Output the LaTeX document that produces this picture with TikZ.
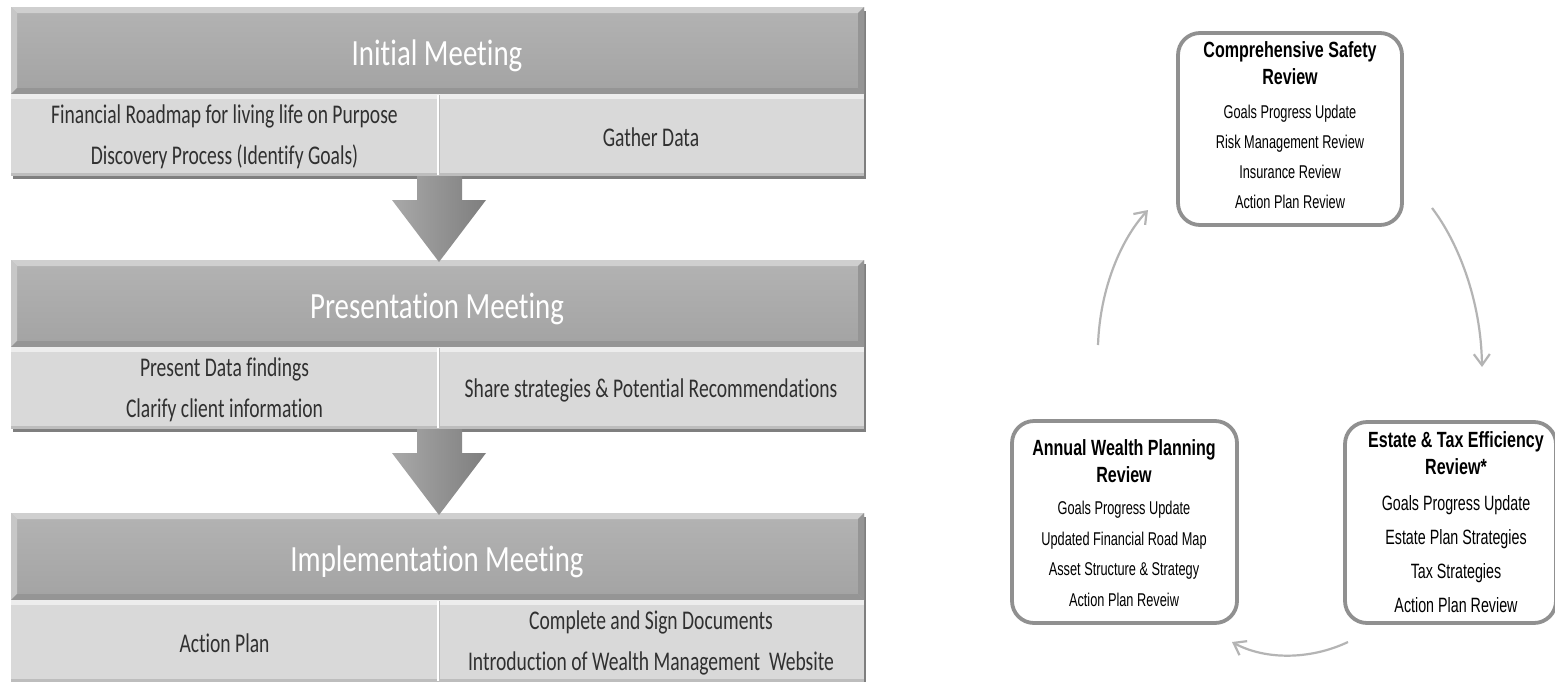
\documentclass[tikz,border=0pt]{standalone}
\usepackage{fontspec}
\setmainfont{Carlito}
\newfontfamily\lfont[FakeStretch=0.725,Ligatures=NoCommon]{Carlito}
\newfontfamily\hfont[FakeStretch=0.78,Ligatures=NoCommon]{Carlito}
\newfontfamily\rfont[FakeStretch=0.73]{Liberation Sans}
\newfontfamily\ifont[FakeStretch=0.69]{Liberation Sans}
\usetikzlibrary{arrows.meta}
\definecolor{hdrtop}{HTML}{B3B3B3}
\definecolor{hdrbot}{HTML}{A3A3A3}
\definecolor{bevlight}{HTML}{CFCFCF}
\definecolor{bevdark}{HTML}{959595}
\definecolor{cellfill}{HTML}{D9D9D9}
\definecolor{celllight}{HTML}{EDEDED}
\definecolor{celldark}{HTML}{BDBDBD}
\definecolor{shadowc}{HTML}{7F7F7F}
\definecolor{arrowc}{HTML}{8C8C8C}
\definecolor{celltextc}{HTML}{303030}
\definecolor{boxline}{HTML}{909090}
\definecolor{cycline}{HTML}{B4B4B4}
\tikzset{
 hdrtext/.style={text=white, font=\hfont\fontsize{37}{40}\selectfont, inner sep=0pt},
 celltext/.style={text=celltextc, align=center, font=\lfont\fontsize{27}{41}\selectfont, inner sep=0pt},
 rbox/.style={draw=boxline, line width=3.8pt, rounded corners=22pt, fill=white, inner sep=0pt},
 rtitle/.style={align=center, font=\rfont\bfseries\fontsize{22}{27}\selectfont, inner sep=0pt},
 ritems/.style={align=center, font=\ifont\fontsize{18.5}{30}\selectfont, inner sep=0pt},
 cyc/.style={draw=cycline, line width=2.2pt, -{Straight Barb[length=11pt,width=16pt,line width=2.2pt]}},
}
\newcommand{\mkblock}[5]{%
 \fill[shadowc] (13,{#2+4}) rectangle (866,{#2+172});
 \shade[top color=hdrtop,bottom color=hdrbot] (11,#2) rectangle (864,{#2+87});
 \fill[bevlight] (11,#2) -- (864,#2) -- (858,{#2+6}) -- (17,{#2+6}) -- cycle;
 \fill[bevlight!70!hdrtop] (11,#2) -- (17,{#2+6}) -- (17,{#2+81}) -- (11,{#2+87}) -- cycle;
 \fill[bevdark] (864,#2) -- (864,{#2+87}) -- (858,{#2+81}) -- (858,{#2+6}) -- cycle;
 \fill[bevdark] (11,{#2+87}) -- (864,{#2+87}) -- (858,{#2+81}) -- (17,{#2+81}) -- cycle;
 \node[hdrtext] (#1h) at (437,{#2+49}) {#3};
 \fill[cellfill] (11,{#2+87}) rectangle (864,{#2+169});
 \fill[celllight] (11,{#2+87}) rectangle (864,{#2+92});
 \fill[celldark] (11,{#2+166}) rectangle (864,{#2+169});
 \draw[white, line width=1.5pt] (438,{#2+88}) -- (438,{#2+168});
 \draw[celldark, line width=0.8pt] (439.5,{#2+88}) -- (439.5,{#2+168});
 \node[celltext] (#1l) at (224.5,{#2+130}) {#4};
 \node[celltext] (#1r) at (651,{#2+130}) {#5};
}
\newcommand{\mkarrow}[3]{%
 \coordinate (#1s) at (439,#2);
 \coordinate (#1t) at (439,#3);
 \shade[left color=arrowc!75!white, right color=arrowc!90!black]
   (417,#2) -- (462,#2) -- (462,{#3-62}) -- (486,{#3-62}) -- (#1t) -- (392,{#3-62}) -- (417,{#3-62}) -- cycle;
}
\begin{document}
\begin{tikzpicture}[x=1pt,y=-1pt]
\useasboundingbox (0,0) rectangle (1555,681);
\fill[white] (0,0) rectangle (1555,681);
% left panel
\mkblock{b1}{7}{Initial Meeting}{Financial Roadmap for living life on Purpose\\Discovery Process (Identify Goals)}{Gather Data}
\mkblock{b2}{260}{Presentation Meeting}{Present Data findings\\Clarify client information}{Share strategies \& Potential Recommendations}
\mkblock{b3}{513}{Implementation Meeting}{Action Plan}{Complete and Sign Documents\\Introduction of Wealth Management\ \ Website}
\mkarrow{a1}{176}{262}
\mkarrow{a2}{429}{515}
% right panel
\node[rbox, minimum width=224pt, minimum height=192pt] (top) at (1290,129) {};
\node[rtitle] (topt) at (1290,63.5) {Comprehensive Safety\\Review};
\node[ritems] (topi) at (1290,157) {Goals Progress Update\\Risk Management Review\\Insurance Review\\Action Plan Review};
\node[rbox, minimum width=225pt, minimum height=202pt] (lft) at (1124.5,522) {};
\node[rtitle] (lftt) at (1124,461.5) {Annual Wealth Planning\\Review};
\node[ritems, font=\ifont\fontsize{18.5}{30.7}\selectfont] (lfti) at (1124,554) {Goals Progress Update\\Updated Financial Road Map\\Asset Structure \& Strategy\\Action Plan Reveiw};
\node[rbox, minimum width=211pt, minimum height=201pt] (rgt) at (1450.5,522.5) {};
\node[rtitle] (rgtt) at (1456,453.5) {Estate \& Tax Efficiency\\Review*};
\node[ritems, font=\ifont\fontsize{20.7}{34}\selectfont] (rgti) at (1456,554) {Goals Progress Update\\Estate Plan Strategies\\Tax Strategies\\Action Plan Review};
% cycle arrows
\coordinate (u1) at (1098,345); \coordinate (u2) at (1148,210);
\draw[cyc] (u1) .. controls (1100,287) and (1122,238) .. (u2);
\coordinate (d1) at (1432,208); \coordinate (d2) at (1482,367);
\draw[cyc] (d1) .. controls (1458,242) and (1481,300) .. (d2);
\coordinate (c1) at (1348,642); \coordinate (c2) at (1232,642);
\draw[cyc] (c1) .. controls (1310,660) and (1265,660) .. (c2);
\end{tikzpicture}
\end{document}
